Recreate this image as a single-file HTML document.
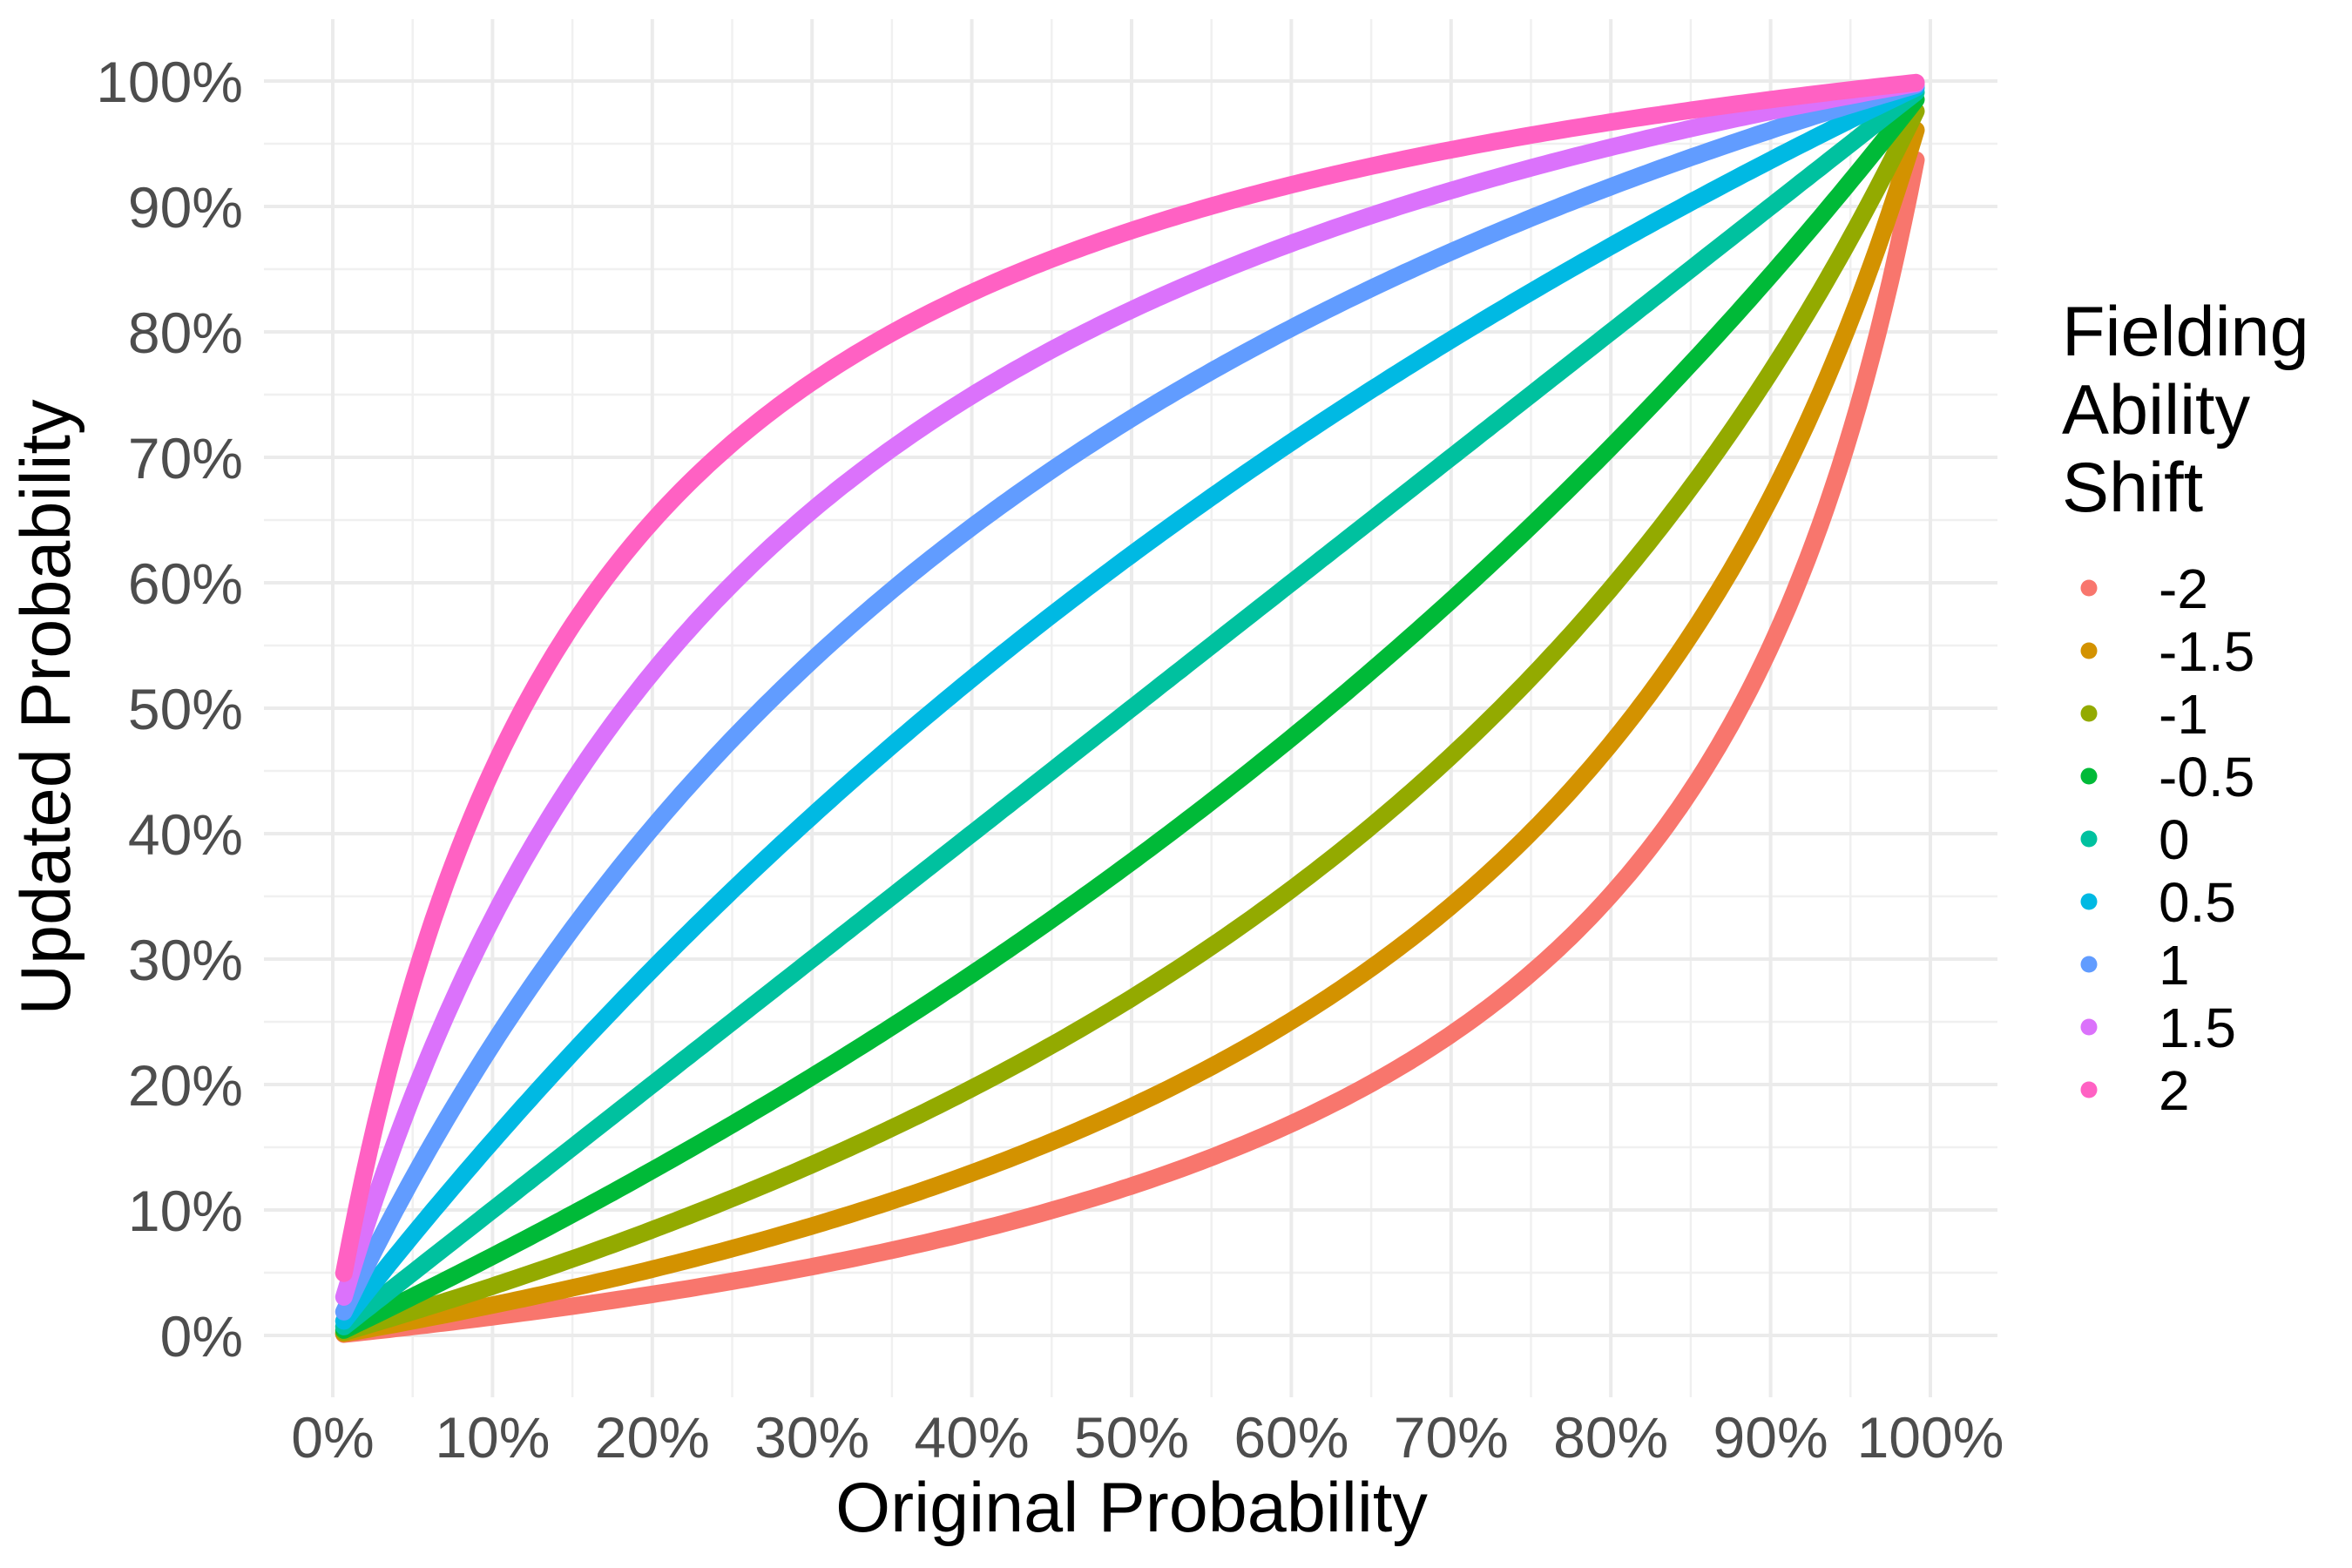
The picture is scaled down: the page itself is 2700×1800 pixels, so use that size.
<!DOCTYPE html>
<html><head><meta charset="utf-8">
<style>
html,body{margin:0;padding:0;background:#fff;}
svg{display:block;}
text{font-family:"Liberation Sans",Arial,sans-serif;}
</style></head>
<body>
<svg id="chart" width="2700" height="1800" viewBox="0 0 2700 1800" xmlns="http://www.w3.org/2000/svg">
<rect width="2700" height="1800" fill="#fff"/>
<g id="grid"></g>
<g id="series"></g>
<g id="xticks"></g>
<g id="yticks"></g>
<text x="1299" y="1758" font-size="81" text-anchor="middle" fill="#000">Original Probability</text>
<text transform="translate(80,812) rotate(-90)" font-size="81" text-anchor="middle" fill="#000">Updated Probability</text>
<g id="legend">
<text x="2367" y="408" font-size="81" fill="#000">Fielding</text>
<text x="2367" y="498" font-size="81" fill="#000">Ability</text>
<text x="2367" y="587" font-size="81" fill="#000">Shift</text>
</g>
</svg>
<script>
// Data
const shifts = [-2, -1.5, -1, -0.5, 0, 0.5, 1, 1.5, 2];
const shiftLabels = ["-2", "-1.5", "-1", "-0.5", "0", "0.5", "1", "1.5", "2"];
const colors = ["#F8766D", "#D39200", "#93AA00", "#00BA38", "#00C19F", "#00B9E3", "#619CFF", "#DB72FB", "#FF61C3"];
const xTickValues = [0, 0.1, 0.2, 0.3, 0.4, 0.5, 0.6, 0.7, 0.8, 0.9, 1];
const xTickLabels = ["0%", "10%", "20%", "30%", "40%", "50%", "60%", "70%", "80%", "90%", "100%"];
const yTickValues = [0, 0.1, 0.2, 0.3, 0.4, 0.5, 0.6, 0.7, 0.8, 0.9, 1];
const yTickLabels = ["0%", "10%", "20%", "30%", "40%", "50%", "60%", "70%", "80%", "90%", "100%"];
const originalProbMin = 0.007;
const originalProbMax = 0.993;
const originalProbStep = 0.004;

const NS = "http://www.w3.org/2000/svg";
const X0 = 382, X1 = 2216, Y0 = 1533, Y1 = 93;
function xs(v){ return X0 + v * (X1 - X0); }
function ys(v){ return Y0 - v * (Y0 - Y1); }
const PL = 303, PR = 2293, PT = 22, PB = 1604;

function mk(tag, attrs, parent){
  const e = document.createElementNS(NS, tag);
  for (const k in attrs) e.setAttribute(k, attrs[k]);
  parent.appendChild(e);
  return e;
}

// Grid
const grid = document.getElementById('grid');
for (let i = 0; i < xTickValues.length - 1; i++) {
  const m = (xTickValues[i] + xTickValues[i+1]) / 2;
  const l = mk('line', {x1: xs(m), x2: xs(m), y1: PT, y2: PB, stroke: '#f0f0f0', 'stroke-width': 2.5}, grid);
  
  
}
for (let i = 0; i < yTickValues.length - 1; i++) {
  const m = (yTickValues[i] + yTickValues[i+1]) / 2;
  const l = mk('line', {x1: PL, x2: PR, y1: ys(m), y2: ys(m), stroke: '#f0f0f0', 'stroke-width': 2.5}, grid);
  
  
}
xTickValues.forEach(v => {
  const l = mk('line', {x1: xs(v), x2: xs(v), y1: PT, y2: PB, stroke: '#ebebeb', 'stroke-width': 4}, grid);
  
  
});
yTickValues.forEach(v => {
  const l = mk('line', {x1: PL, x2: PR, y1: ys(v), y2: ys(v), stroke: '#ebebeb', 'stroke-width': 4}, grid);
  
  
});

// Ticks
const xt = document.getElementById('xticks');
xTickValues.forEach((v, i) => {
  const t = mk('text', {x: xs(v), y: 1673, 'font-size': 66, 'text-anchor': 'middle', fill: '#4d4d4d'}, xt);
  t.textContent = xTickLabels[i];
  
  
});
const yt = document.getElementById('yticks');
yTickValues.forEach((v, i) => {
  const t = mk('text', {x: 279, y: ys(v) + 24, 'font-size': 66, 'text-anchor': 'end', fill: '#4d4d4d'}, yt);
  t.textContent = yTickLabels[i];
  
  
});

// Series
const xVals = [];
for (let p = originalProbMin; p <= originalProbMax + 1e-9; p += originalProbStep) xVals.push(p);
function updated(p, s){ const l = Math.log(p / (1 - p)) + s; return 1 / (1 + Math.exp(-l)); }
const sg = document.getElementById('series');
shifts.forEach((s, i) => {
  const pts = xVals.map(p => xs(p).toFixed(1) + ',' + ys(updated(p, s)).toFixed(1)).join(' ');
  const pl = mk('polyline', {points: pts, fill: 'none', stroke: colors[i], 'stroke-width': 20, 'stroke-linecap': 'round', 'stroke-linejoin': 'round'}, sg);
  
  
});

// Legend
const lg = document.getElementById('legend');
shifts.forEach((s, i) => {
  const cy = 675 + i * 72;
  const c = mk('circle', {cx: 2398, cy: cy, r: 9.5, fill: colors[i]}, lg);
  
  
  const t = mk('text', {x: 2478, y: cy + 23, 'font-size': 64, fill: '#000'}, lg);
  t.textContent = shiftLabels[i];
  
  
});
</script>
</body></html>
